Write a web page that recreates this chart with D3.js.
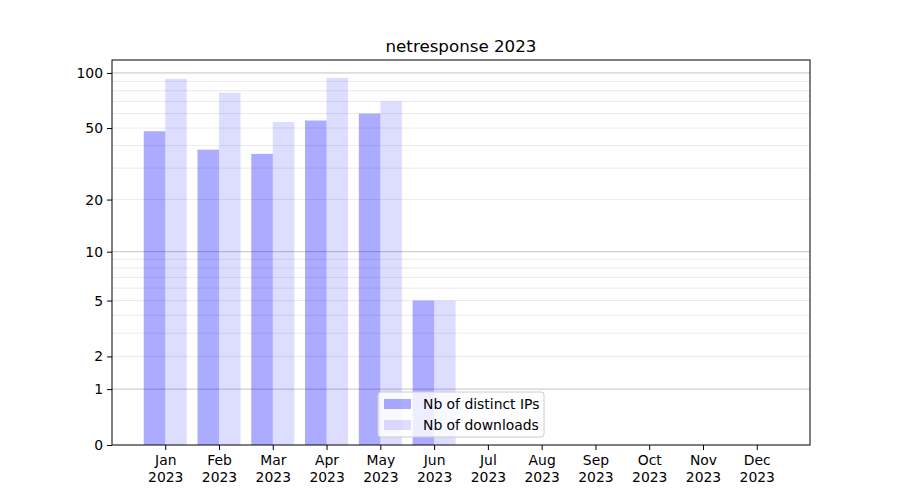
<!DOCTYPE html>
<html><head><meta charset="utf-8">
<script src="https://cdn.jsdelivr.net/npm/d3@7"></script>
<style>body{margin:0;background:#fff;} svg{display:block;font-family:"DejaVu Sans",sans-serif;}</style>
</head><body>
<svg id="chart" width="900" height="500"></svg>
<script>
const months = ["Jan","Feb","Mar","Apr","May","Jun","Jul","Aug","Sep","Oct","Nov","Dec"];
const yearLabel = "2023";
const distinctIPs = [48, 38, 36, 55, 60, 5, 0, 0, 0, 0, 0, 0];
const downloads = [93, 78, 54, 94, 70, 5, 0, 0, 0, 0, 0, 0];
const yTicks = [0, 1, 2, 5, 10, 20, 50, 100];
const yMajorGrid = [1, 10, 100];
const yMinorGrid = [2, 3, 4, 5, 6, 7, 8, 9, 20, 30, 40, 50, 60, 70, 80, 90];
const seriesNames = ["Nb of distinct IPs", "Nb of downloads"];
const title = "netresponse 2023";

const svg = d3.select("#chart");
const m = {left: 112, right: 810, top: 60, bottom: 445};
const x = d3.scaleLinear().domain([-0.99, 11.99]).range([m.left, m.right]);
const y = d3.scaleSymlog().constant(1).domain([0, 117.6]).range([m.bottom, m.top]);
const bw = x(0.4) - x(0);

// grid
svg.append("g").selectAll("line").data(yMinorGrid).join("line")
  .attr("x1", m.left).attr("x2", m.right)
  .attr("y1", d => y(d)).attr("y2", d => y(d))
  .attr("stroke", "#ebebeb").attr("stroke-width", 1);
svg.append("g").selectAll("line").data(yMajorGrid).join("line")
  .attr("x1", m.left).attr("x2", m.right)
  .attr("y1", d => y(d)).attr("y2", d => y(d))
  .attr("stroke", "#c4c4c4").attr("stroke-width", 1);

// bars
svg.append("g").selectAll("rect").data(distinctIPs).join("rect")
  .attr("x", (d, i) => x(i) - bw).attr("width", bw)
  .attr("y", d => y(d)).attr("height", d => y(0) - y(d))
  .attr("fill", "blue").attr("fill-opacity", 0.33);
svg.append("g").selectAll("rect").data(downloads).join("rect")
  .attr("x", (d, i) => x(i)).attr("width", bw)
  .attr("y", d => y(d)).attr("height", d => y(0) - y(d))
  .attr("fill", "blue").attr("fill-opacity", 0.133);

// axes frame
svg.append("rect").attr("x", m.left).attr("y", m.top)
  .attr("width", m.right - m.left).attr("height", m.bottom - m.top)
  .attr("fill", "none").attr("stroke", "#000").attr("stroke-width", 1);

// y axis
const yAxis = svg.append("g").attr("transform", `translate(${m.left},0)`)
  .call(d3.axisLeft(y).tickValues(yTicks).tickSize(5).tickPadding(4).tickFormat(d3.format("d")));
yAxis.select(".domain").remove();
yAxis.selectAll("text").attr("font-size", 13.9).attr("fill", "#000").attr("font-family", "DejaVu Sans");

// x axis
const xAxis = svg.append("g").attr("transform", `translate(0,${m.bottom})`)
  .call(d3.axisBottom(x).tickValues(d3.range(12)).tickSize(5).tickFormat(""));
xAxis.select(".domain").remove();
xAxis.selectAll(".tick").each(function(d) {
  const t = d3.select(this).append("text").attr("fill", "#000").attr("text-anchor", "middle")
    .attr("font-size", 13.9).attr("font-family", "DejaVu Sans");
  t.append("tspan").attr("x", 0).attr("y", 20).text(months[d]);
  t.append("tspan").attr("x", 0).attr("y", 37).text(yearLabel);
});

// title
svg.append("text").attr("x", (m.left + m.right) / 2).attr("y", 52)
  .attr("text-anchor", "middle").attr("font-size", 16.7).attr("fill", "#000").text(title);

// legend
const lg = svg.append("g").attr("transform", "translate(378,392)");
lg.append("rect").attr("width", 166).attr("height", 45).attr("rx", 3)
  .attr("fill", "#fff").attr("fill-opacity", 0.8).attr("stroke", "#cccccc");
seriesNames.forEach((n, i) => {
  lg.append("rect").attr("x", 6).attr("y", 7 + i * 21).attr("width", 27).attr("height", 10)
    .attr("fill", "blue").attr("fill-opacity", i === 0 ? 0.33 : 0.133);
  lg.append("text").attr("x", 45).attr("y", 17 + i * 21).attr("font-size", 13.9)
    .attr("fill", "#000").text(n);
});
</script>
</body></html>
